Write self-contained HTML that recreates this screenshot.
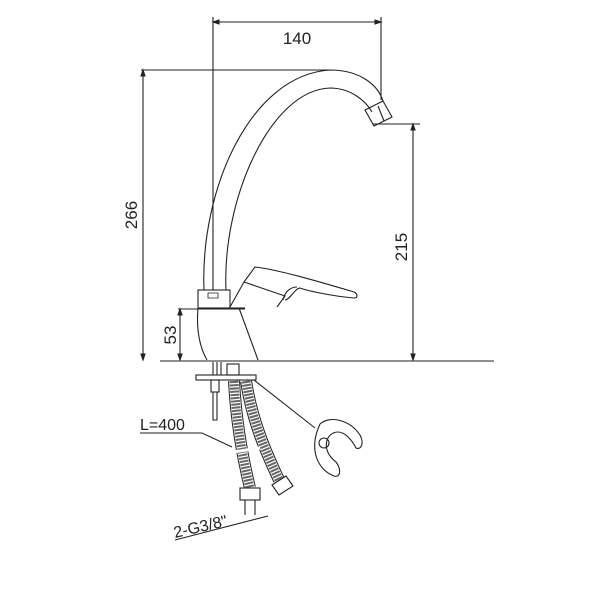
<!DOCTYPE html><html><head><style>body{margin:0;background:#fff}svg{display:block}</style></head><body>
<svg width="604" height="604" viewBox="0 0 604 604" xmlns="http://www.w3.org/2000/svg" font-family="Liberation Sans, sans-serif" fill="none" stroke="#222" stroke-width="1.1">
<line x1="213" y1="22" x2="381" y2="22"/>
<path d="M213 22 l6 -2 v4z M381 22 l-6 -2 v4z" fill="#222"/>
<line x1="213" y1="17" x2="213" y2="290"/><line x1="381" y1="17" x2="381" y2="100"/>
<text x="297" y="44" font-size="17" fill="#222" stroke="none" text-anchor="middle">140</text>
<line x1="141" y1="70" x2="330" y2="70"/><line x1="143" y1="70" x2="143" y2="360"/>
<path d="M143 70 l-2 6 h4z M143 360 l-2 -6 h4z" fill="#222"/>
<text transform="translate(137,215) rotate(-90)" font-size="17" fill="#222" stroke="none" text-anchor="middle">266</text>
<line x1="373" y1="124" x2="420" y2="124"/><line x1="413" y1="124" x2="413" y2="360"/>
<path d="M413 124 l-2 6 h4z M413 360 l-2 -6 h4z" fill="#222"/>
<text transform="translate(407,247) rotate(-90)" font-size="17" fill="#222" stroke="none" text-anchor="middle">215</text>
<line x1="178" y1="309" x2="245" y2="309"/><line x1="180" y1="309" x2="180" y2="360"/>
<path d="M180 309 l-2 6 h4z M180 360 l-2 -6 h4z" fill="#222"/>
<text transform="translate(176,335) rotate(-90)" font-size="17" fill="#222" stroke="none" text-anchor="middle">53</text>
<line x1="160" y1="361" x2="494" y2="361"/>
<path d="M204 290 C200 190 250 75 330 70 C360 70 378 85 383 101"/>
<path d="M226 290 C222 200 270 90 330 88 C350 88 365 100 372 112"/>
<path d="M365 110 l18 -9 l9 16 l-18 9z"/><line x1="378" y1="106" x2="384" y2="121"/>
<rect x="198" y="290" width="32" height="18"/>
<path d="M208 293 h10 v5 h-10z" stroke-width="0.8"/>
<path d="M198 308 C196 330 200 348 207 360"/>
<path d="M239 308 L258 360"/>
<path d="M230 307 L244 282 L285 296 L277 307"/>
<path d="M244 282 L255 267 C280 270 320 282 354 292 C358 294 358 298 354 298 C330 296 305 290 300 288 C295 288 290 300 285 300"/>
<path d="M283 300 C285 290 292 287 297 287"/>
<line x1="230" y1="308" x2="245" y2="308"/>
<rect x="196" y="375" width="60" height="5"/>
<path d="M213 362 v13 M217 362 v13 M221 362 v13"/>
<rect x="227" y="364" width="12" height="11"/>
<rect x="211" y="380" width="8" height="12"/><path d="M213 392 v28 h4 v-28"/>
<g stroke-linecap="butt">
<path d="M234 381 C236 420 242 455 250 488" stroke="#222" stroke-width="12"/>
<path d="M234 381 C236 420 242 455 250 488" stroke="#fff" stroke-width="10"/>
<path d="M234 381 C236 420 242 455 250 488" stroke="#666" stroke-width="9" stroke-dasharray="2 1.2"/>
<path d="M246 381 C252 420 265 450 279 480" stroke="#222" stroke-width="12"/>
<path d="M246 381 C252 420 265 450 279 480" stroke="#fff" stroke-width="10"/>
<path d="M246 381 C252 420 265 450 279 480" stroke="#666" stroke-width="9" stroke-dasharray="2 1.2"/>
</g>
<line x1="233" y1="452" x2="260" y2="448" stroke="#fff" stroke-width="3"/>
<rect x="240" y="488" width="20" height="12" fill="#fff"/><path d="M245 500 v15 M255 500 v15"/>
<path d="M272 485 l14 -9 l7 10 l-14 9z" fill="#fff"/>
<text x="140" y="430" font-size="16" fill="#222" stroke="none">L=400</text>
<path d="M140 433 H202 L232 447"/>
<text transform="translate(175,538) rotate(-13)" font-size="16" fill="#222" stroke="none">2-G3/8"</text>
<line x1="175" y1="540" x2="268" y2="516"/>
<line x1="254" y1="380" x2="315" y2="428"/>
<path d="M320 424 C330 415 350 420 360 435 C365 445 360 450 356 448 C352 440 345 432 338 432 C326 432 320 450 336 462 C342 470 340 478 334 476 C318 470 308 450 320 424z"/>
<circle cx="324" cy="443" r="5"/>
</svg>
</body></html>
